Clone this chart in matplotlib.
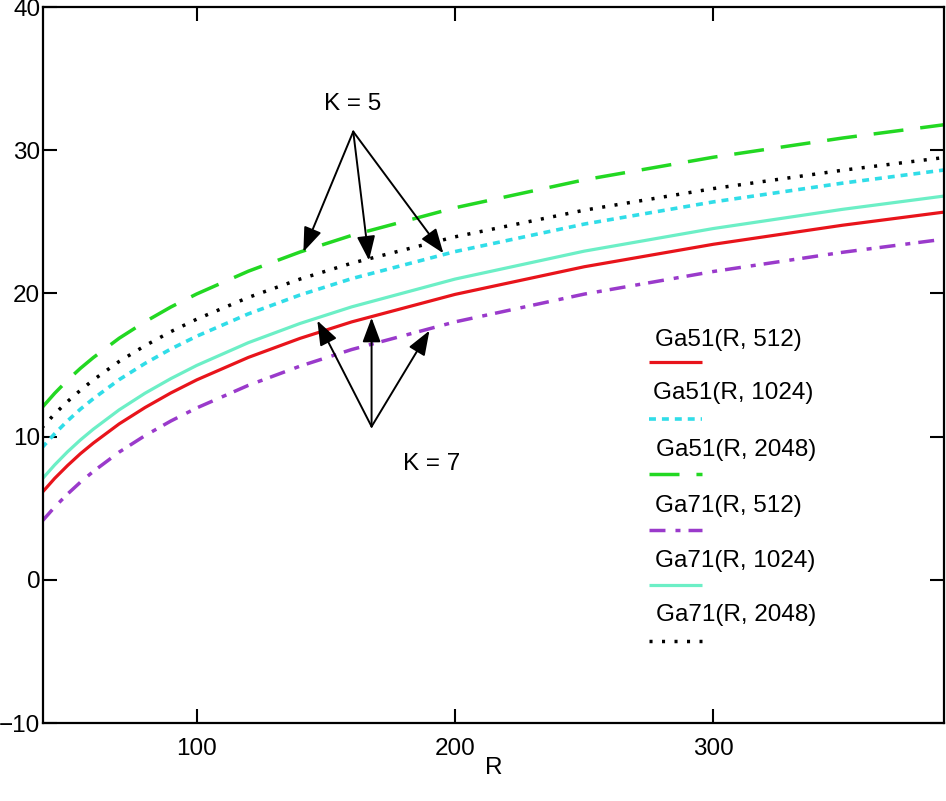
import matplotlib
matplotlib.use("Agg")
import matplotlib.pyplot as plt
from matplotlib.lines import Line2D

plt.rcParams['font.family'] = ['Liberation Sans', 'DejaVu Sans']
plt.rcParams['lines.scale_dashes'] = False

# ---- data ----
R = [40, 45, 50, 55, 60, 70, 80, 90, 100, 120, 140, 160, 200, 250, 300, 350, 389]
ga51_512 = [6.06, 7.08, 7.98, 8.81, 9.55, 10.89, 12.03, 13.05, 13.96, 15.53, 16.86, 18.01,
            19.93, 21.86, 23.43, 24.76, 25.67]
ga51_1024 = [9.20, 10.20, 11.10, 11.92, 12.65, 13.98, 15.11, 16.12, 17.01, 18.57, 19.89, 21.03,
             22.92, 24.84, 26.39, 27.70, 28.61]
ga51_2048 = [12.00, 13.02, 13.94, 14.77, 15.52, 16.87, 18.02, 19.05, 19.96, 21.55, 22.89, 24.05,
             25.98, 27.93, 29.51, 30.85, 31.77]
ga71_512 = [4.06, 5.08, 5.99, 6.82, 7.57, 8.92, 10.07, 11.09, 12.00, 13.58, 14.92, 16.08,
            18.01, 19.95, 21.53, 22.87, 23.78]
ga71_1024 = [7.00, 8.02, 8.94, 9.77, 10.52, 11.87, 13.03, 14.05, 14.97, 16.56, 17.90, 19.06,
             21.00, 22.95, 24.53, 25.87, 26.79]
ga71_2048 = [10.60, 11.58, 12.45, 13.24, 13.96, 15.25, 16.35, 17.33, 18.20, 19.72, 21.00, 22.11,
             23.95, 25.81, 27.32, 28.60, 29.48]

labels = ["Ga51(R, 512)", "Ga51(R, 1024)", "Ga51(R, 2048)",
          "Ga71(R, 512)", "Ga71(R, 1024)", "Ga71(R, 2048)"]
x_ticks = [100, 200, 300]
y_ticks = [-10, 0, 10, 20, 30, 40]

# annotation anchor points (data coords)
k5_text = (160.3, 33.2)
k5_origin = (160.6, 31.3)
k5_tips = [(141.3, 22.9), (166.7, 22.3), (195.5, 22.8)]
k7_text = (190.9, 8.1)
k7_origin = (167.7, 10.7)
k7_tips = [(146.7, 18.1), (167.7, 18.3), (190.1, 17.4)]

# ---- styles ----
series = [ga51_512, ga51_1024, ga51_2048, ga71_512, ga71_1024, ga71_2048]
colors = ['#e8141b', '#30dde8', '#22d822', '#9a3acb', '#6cefc6', '#000000']
dashes = [None, (5, 4.3), (21.6, 12.2), (11.5, 7.2, 3.6, 5.8), None, (2.2, 6.8)]
lws = [2.3, 2.6, 2.5, 2.5, 2.3, 2.5]
FS = 17.5

W, H = 946, 801
fig = plt.figure(figsize=(W / 100, H / 100), dpi=100)
ax = fig.add_axes([43 / W, 1 - 723 / H, (944 - 43) / W, (723 - 7) / H])

for ys, c, d, lw in zip(series, colors, dashes, lws):
    ln, = ax.plot(R, ys, color=c, lw=lw, solid_capstyle='butt', dash_capstyle='butt')
    if d is not None:
        ln.set_dashes(d)

ax.set_xlim(40.5, 389.3)
ax.set_ylim(-10, 40)
ax.set_xticks(x_ticks)
ax.set_yticks(y_ticks)
ax.tick_params(direction='in', length=10, width=1.5, labelsize=FS,
               top=True, right=True)
ax.tick_params(axis='x', pad=11)
ax.tick_params(axis='y', pad=2)
for s in ax.spines.values():
    s.set_linewidth(1.6)
ax.set_xlabel("R", fontsize=FS, labelpad=-2)

# annotations
arrow_kw = dict(arrowstyle='-|>,head_length=0.75,head_width=0.28', color='black',
                lw=1.4, shrinkA=0, shrinkB=0, mutation_scale=20)
for tip in k5_tips:
    ax.annotate('', xy=tip, xytext=k5_origin, arrowprops=arrow_kw)
for tip in k7_tips:
    ax.annotate('', xy=tip, xytext=k7_origin, arrowprops=arrow_kw)
ax.text(*k5_text, "K = 5", fontsize=FS, ha='center', va='center')
ax.text(*k7_text, "K = 7", fontsize=FS, ha='center', va='center')

# custom legend (text above a line sample)
text_y = [340, 393, 450, 506, 561, 615]
line_y = [362, 419, 474, 530, 585, 641]
text_x = [655, 653, 656, 655, 655, 656]
for lab, c, d, lw, ty, ly, tx in zip(labels, colors, dashes, lws, text_y, line_y, text_x):
    fig.text(tx / W, 1 - ty / H, lab, fontsize=FS, ha='left', va='center')
    l = Line2D([649 / W, 702 / W], [1 - ly / H, 1 - ly / H], transform=fig.transFigure,
               color=c, lw=lw, solid_capstyle='butt', dash_capstyle='butt')
    if d is not None:
        l.set_dashes(d)
    fig.add_artist(l)

fig.savefig("out.png", dpi=100, facecolor='white')
